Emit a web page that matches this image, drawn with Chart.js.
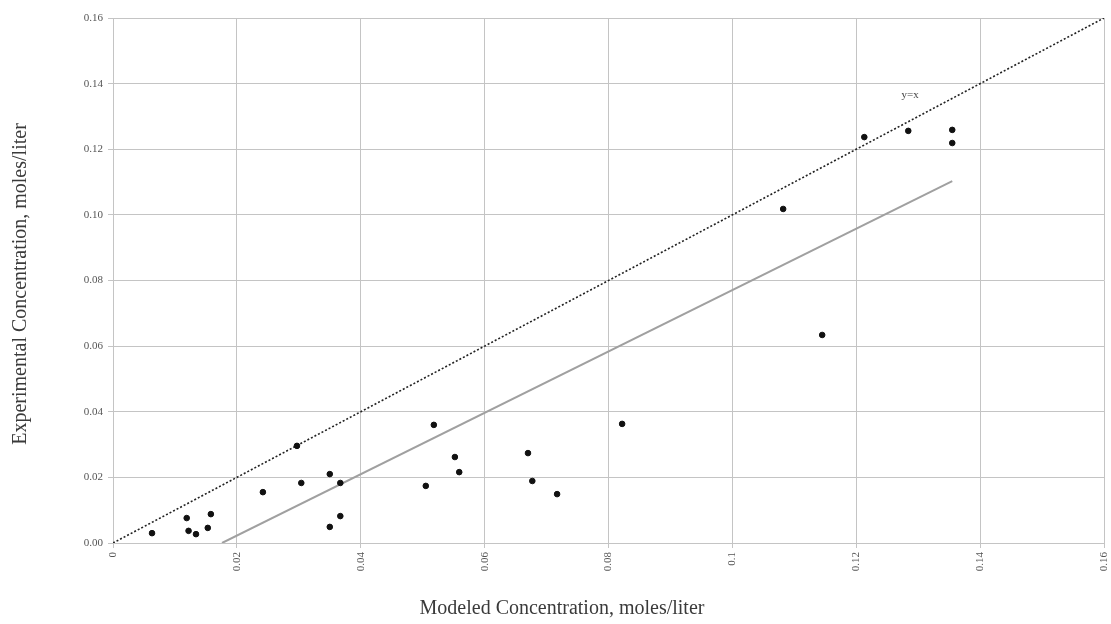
<!DOCTYPE html>
<html>
<head>
<meta charset="utf-8">
<script src="https://cdn.jsdelivr.net/npm/chart.js@4"></script>
<style>
  html, body { margin: 0; padding: 0; background: #fff; }
  #wrap { width: 1111px; height: 624px; }
</style>
</head>
<body>
<div id="wrap"><canvas id="chart" width="1111" height="624"></canvas></div>
<script>
// measured points: modeled (x) vs experimental (y), moles/liter
const modeled = [0.0063, 0.0119, 0.0122, 0.0134, 0.0153, 0.0158, 0.0242, 0.0297, 0.0304,
  0.0350, 0.0350, 0.0367, 0.0367, 0.0505, 0.0518, 0.0552, 0.0559, 0.0670, 0.0677,
  0.0717, 0.0822, 0.1082, 0.1145, 0.1213, 0.1284, 0.1355, 0.1355];
const experimental = [0.0030, 0.0076, 0.0037, 0.0027, 0.0046, 0.0088, 0.0155, 0.0296, 0.0183,
  0.0210, 0.0049, 0.0183, 0.0082, 0.0174, 0.0360, 0.0262, 0.0216, 0.0274, 0.0189,
  0.0149, 0.0363, 0.1018, 0.0634, 0.1237, 0.1256, 0.1259, 0.1219];

// y = x reference line and fitted line end points
const identityX = [0, 0.16];
const identityY = [0, 0.16];
const fitX = [0.0176, 0.1355];
const fitY = [0, 0.1103];

const xTickLabels = ['0', '0.02', '0.04', '0.06', '0.08', '0.1', '0.12', '0.14', '0.16'];
const yTickLabels = ['0.00', '0.02', '0.04', '0.06', '0.08', '0.10', '0.12', '0.14', '0.16'];

const xTitle = 'Modeled Concentration, moles/liter';
const yTitle = 'Experimental Concentration, moles/liter';

const toPoints = (xs, ys) => xs.map((x, i) => ({ x: x, y: ys[i] }));

const serif = "'Liberation Serif', 'DejaVu Serif', serif";

// "y=x" note plus the two axis titles (the x title sits left of centre in the original)
const textBits = {
  id: 'textBits',
  afterDraw(chart) {
    const { ctx, scales } = chart;
    ctx.save();
    ctx.font = '11px ' + serif;
    ctx.fillStyle = '#444';
    ctx.textAlign = 'center';
    ctx.textBaseline = 'middle';
    ctx.fillText('y=x', scales.x.getPixelForValue(0.1287), scales.y.getPixelForValue(0.1365));

    ctx.font = '20px ' + serif;
    ctx.fillStyle = '#3a3a3a';
    ctx.fillText(xTitle, 562, 609);
    ctx.translate(21, 284);
    ctx.rotate(-Math.PI / 2);
    ctx.fillText(yTitle, 0, 0);
    ctx.restore();
  },
};

new Chart(document.getElementById('chart'), {
  type: 'scatter',
  data: {
    datasets: [
      {
        label: 'y=x',
        data: toPoints(identityX, identityY),
        showLine: true,
        borderColor: '#222',
        borderWidth: 1.6,
        borderDash: [2, 2],
        pointRadius: 0,
        order: 2,
      },
      {
        label: 'Fit',
        data: toPoints(fitX, fitY),
        showLine: true,
        borderColor: '#a0a0a0',
        borderWidth: 2,
        pointRadius: 0,
        order: 3,
      },
      {
        label: 'Data',
        data: toPoints(modeled, experimental),
        backgroundColor: '#111',
        borderColor: '#111',
        pointRadius: 2.8,
        order: 1,
      },
    ],
  },
  options: {
    responsive: false,
    animation: false,
    layout: { padding: { top: 18, right: 7, left: 0, bottom: 0 } },
    plugins: {
      legend: { display: false },
      tooltip: { enabled: false },
    },
    scales: {
      x: {
        type: 'linear',
        min: 0,
        max: 0.16,
        afterBuildTicks: scale => {
          scale.ticks = xTickLabels.map(v => ({ value: parseFloat(v) }));
        },
        afterFit: scale => {
          scale.height = 81;
          scale.paddingRight = 0;
        },
        ticks: {
          minRotation: 90,
          maxRotation: 90,
          color: '#555',
          padding: 4,
          font: { family: serif, size: 11 },
          callback: (v, i) => xTickLabels[i],
        },
        grid: { color: '#c4c4c4', tickLength: 5, tickColor: '#c4c4c4' },
        border: { color: '#c4c4c4' },
      },
      y: {
        type: 'linear',
        min: 0,
        max: 0.16,
        afterBuildTicks: scale => {
          scale.ticks = yTickLabels.map(v => ({ value: parseFloat(v) }));
        },
        afterFit: scale => { scale.width = 113; },
        ticks: {
          color: '#555',
          padding: 5,
          font: { family: serif, size: 11 },
          callback: (v, i) => yTickLabels[i],
        },
        grid: { color: '#c4c4c4', tickLength: 5, tickColor: '#c4c4c4' },
        border: { color: '#c4c4c4' },
      },
    },
  },
  plugins: [textBits],
});
</script>
</body>
</html>
